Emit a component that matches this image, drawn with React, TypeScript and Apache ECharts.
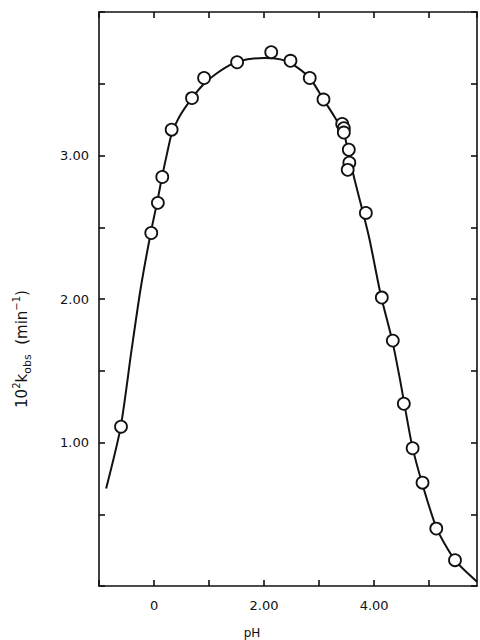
import React, { useEffect, useRef } from "react";
import * as echarts from "echarts";

// Observed points (pH, 10^2 k_obs / min^-1)
const pointPh = [
  -0.6, -0.05, 0.07, 0.15, 0.32, 0.69, 0.91, 1.51, 2.13, 2.48, 2.83, 3.08, 3.42,
  3.45, 3.45, 3.54, 3.55, 3.52, 3.85, 4.14, 4.34, 4.54, 4.7, 4.88, 5.13, 5.47,
];
const pointK = [
  1.11, 2.46, 2.67, 2.85, 3.18, 3.4, 3.54, 3.65, 3.72, 3.66, 3.54, 3.39, 3.22,
  3.19, 3.16, 3.04, 2.95, 2.9, 2.6, 2.01, 1.71, 1.27, 0.96, 0.72, 0.4, 0.18,
];

// Fitted curve
const curvePh = [
  -0.87, -0.61, -0.41, -0.24, -0.06, 0.06, 0.15, 0.24, 0.32, 0.46, 0.69, 0.91,
  1.13, 1.43, 1.7, 2.0, 2.3, 2.5, 2.83, 3.08, 3.28, 3.45, 3.54, 3.64, 3.8, 3.92,
  4.12, 4.33, 4.47, 4.54, 4.69, 4.87, 5.14, 5.47, 5.87,
];
const curveK = [
  0.68, 1.1, 1.64, 2.08, 2.46, 2.68, 2.86, 3.02, 3.15, 3.27, 3.4, 3.5, 3.57,
  3.64, 3.67, 3.68, 3.67, 3.64, 3.54, 3.39, 3.27, 3.15, 3.01, 2.84, 2.6, 2.41,
  2.03, 1.71, 1.44, 1.29, 0.98, 0.72, 0.4, 0.18, 0.03,
];

const xLabels: Record<string, string> = { "0": "0", "2": "2.00", "4": "4.00" };
const yLabels: Record<string, string> = { "1": "1.00", "2": "2.00", "3": "3.00" };
const xAxisTitle = "pH";

const FONT = "DejaVu Sans";
const INK = "#111111";

export default function App() {
  const ref = useRef<HTMLDivElement>(null);
  useEffect(() => {
    if (!ref.current) return;
    const chart = echarts.init(ref.current, undefined, { renderer: "svg" });
    const key = (v: number) => String(Math.round(v * 1000) / 1000);
    const axisCommon = {
      axisLine: { show: true, onZero: false, lineStyle: { color: INK, width: 1.6 } },
      axisTick: { show: true, inside: true, length: 6, lineStyle: { color: INK, width: 1.6 } },
      splitLine: { show: false },
    };
    chart.setOption({
      animation: false,
      backgroundColor: "#fff",
      grid: { left: 99, right: 3, top: 12, bottom: 54 },
      xAxis: [
        {
          type: "value",
          min: -1,
          max: 5.87,
          interval: 1,
          ...axisCommon,
          axisLabel: {
            show: true,
            margin: 13,
            color: INK,
            fontFamily: FONT,
            fontSize: 13,
            showMaxLabel: false,
            formatter: (v: number) => xLabels[key(v)] ?? "",
          },
        },
        {
          type: "value",
          position: "top",
          min: -1,
          max: 5.87,
          interval: 1,
          ...axisCommon,
          axisLabel: { show: false },
        },
      ],
      yAxis: [
        {
          type: "value",
          min: 0,
          max: 4,
          interval: 0.5,
          ...axisCommon,
          axisLabel: {
            show: true,
            margin: 10,
            color: INK,
            fontFamily: FONT,
            fontSize: 13,
            formatter: (v: number) => yLabels[key(v)] ?? "",
          },
        },
        {
          type: "value",
          position: "right",
          min: 0,
          max: 4,
          interval: 0.5,
          ...axisCommon,
          axisLabel: { show: false },
        },
      ],
      series: [
        {
          type: "line",
          data: curvePh.map((x, i) => [x, curveK[i]]),
          smooth: 0.25,
          showSymbol: false,
          lineStyle: { color: INK, width: 2 },
          z: 2,
        },
        {
          type: "scatter",
          data: pointPh.map((x, i) => [x, pointK[i]]),
          symbol: "circle",
          symbolSize: 12,
          itemStyle: { color: "#fff", opacity: 1, borderColor: INK, borderWidth: 1.8 },
          z: 3,
        },
      ],
      graphic: [
        {
          type: "text",
          x: 252,
          y: 633,
          style: {
            text: xAxisTitle,
            font: `12px "${FONT}"`,
            fill: INK,
            align: "center",
            verticalAlign: "middle",
          },
        },
        {
          type: "text",
          x: 22,
          y: 349,
          rotation: Math.PI / 2,
          style: {
            text: "{n|10}{sup|2}{n|k}{sub|obs}{n|  (min}{sup|−1}{n|)}",
            fill: INK,
            align: "center",
            verticalAlign: "middle",
            rich: {
              n: { fontFamily: FONT, fontSize: 15, lineHeight: 22, fill: INK, color: INK },
              sup: { fontFamily: FONT, fontSize: 10, verticalAlign: "top", fill: INK, color: INK },
              sub: { fontFamily: FONT, fontSize: 11, verticalAlign: "bottom", fill: INK, color: INK },
            },
          },
        },
      ],
    });
    return () => chart.dispose();
  }, []);
  return (
    <div
      ref={ref}
      style={{ position: "fixed", left: 0, top: 0, width: 480, height: 640 }}
    />
  );
}
